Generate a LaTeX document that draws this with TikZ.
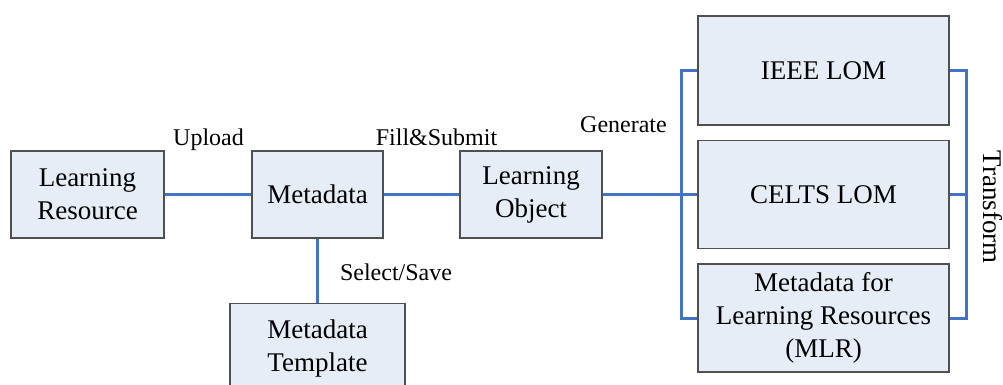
\documentclass[tikz,border=0pt]{standalone}
\usepackage{fontspec}
\setmainfont{Liberation Serif}
\definecolor{boxfill}{HTML}{E7EDF7}
\definecolor{boxline}{HTML}{505050}
\definecolor{linkblue}{HTML}{4472C4}
\begin{document}
\begin{tikzpicture}[x=1pt,y=-1pt,
        block/.style={draw=boxline,fill=boxfill,line width=1.1pt,align=center,
            inner sep=0pt,font=\fontsize{27}{33}\selectfont},
        link/.style={draw=linkblue,line width=3pt},
        tag/.style={anchor=base,inner sep=0pt,font=\fontsize{24}{28}\selectfont}
    ]
    \useasboundingbox (0,0) rectangle (1003,385);
    \clip (0,0) rectangle (1003,385);
    \node [block,minimum width=153pt,minimum height=87pt] (resource) at (87.5,194.5) {Learning\\Resource};
    \node [block,minimum width=131pt,minimum height=87pt] (metadata) at (317.5,194.5) {Metadata};
    \node [block,minimum width=142pt,minimum height=87pt] (object) at (531,194.5) {Learning\\Object};
    \node [block,minimum width=175pt,minimum height=90pt,anchor=north] (template) at (317.5,303) {Metadata\\Template};
    \node [block,minimum width=251pt,minimum height=109pt] (ieee) at (823.5,70.5) {IEEE LOM};
    \node [block,minimum width=251pt,minimum height=108pt] (celts) at (823.5,194.5) {CELTS LOM};
    \node [block,minimum width=251pt,minimum height=108pt] (mlr) at (823.5,318) {Metadata for\\Learning Resources\\(MLR)};

    \draw [link] (resource.east) -- (metadata.west);
    \draw [link] (metadata.east) -- (object.west);
    \draw [link] (metadata.south) -- (template.north);
    \draw [link] (object.east) -- (celts.west);
    \draw [link,line join=miter] (ieee.west) -- ++(-16,0) |- (mlr.west);
    \draw [link,line join=miter] (ieee.east) -- ++(17,0) |- (mlr.east);
    \draw [link] (celts.east) -- ++(17,0);

    \node [tag] (upload) at (208.5,145) {Upload};
    \node [tag] (fill) at (436.5,145) {Fill\&Submit};
    \node [tag] (generate) at (623.5,132) {Generate};
    \node [tag] (select) at (396,280) {Select/Save};
    \node [tag,rotate=-90,font=\fontsize{27}{33}\selectfont] (transform) at (983,207) {Transform};
\end{tikzpicture}
\end{document}
